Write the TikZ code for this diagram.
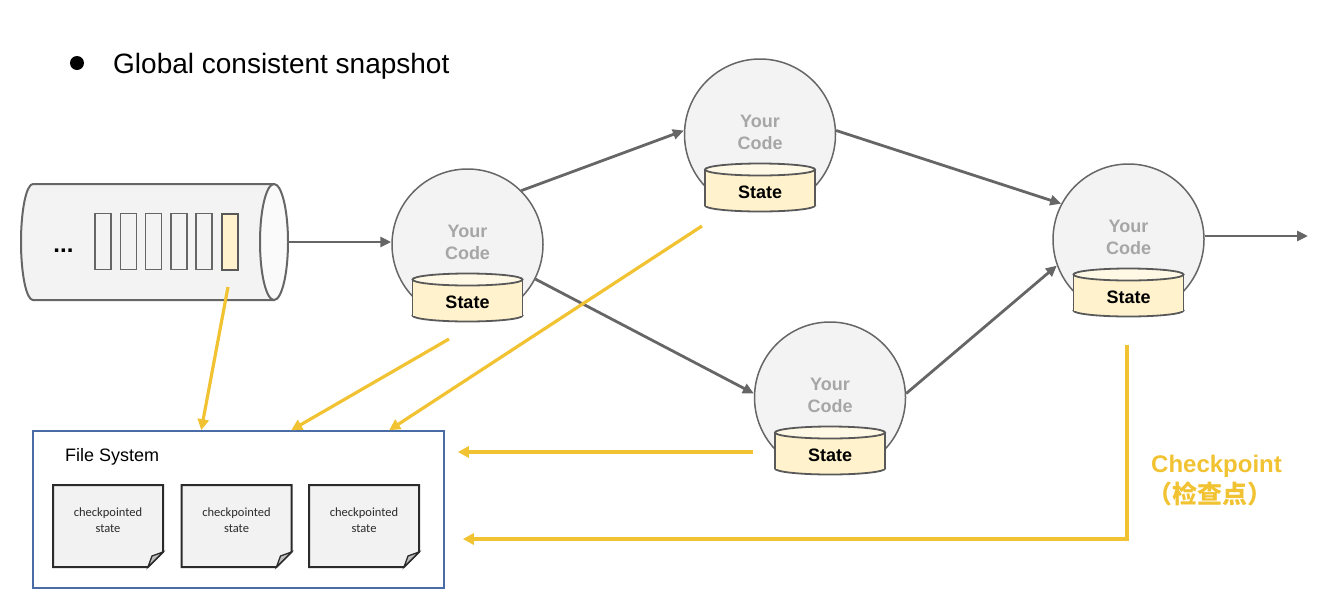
\documentclass[tikz,border=0pt]{standalone}
\usepackage{fontspec}
\setmainfont{Liberation Sans}
\newfontfamily\cjk{Noto Sans CJK SC}
\newfontfamily\carlito{Carlito}
\usetikzlibrary{arrows.meta,shapes.geometric,calc}
\definecolor{edgegray}{HTML}{666666}
\definecolor{circfill}{HTML}{F3F3F3}
\definecolor{circline}{HTML}{666666}
\definecolor{statefill}{HTML}{FFF2CC}
\definecolor{statetop}{HTML}{FFF8E4}
\definecolor{stateline}{HTML}{595959}
\definecolor{ylw}{HTML}{F1C232}
\definecolor{fsblue}{HTML}{4A6CA6}
\definecolor{codegray}{HTML}{A6A6A6}
\definecolor{docfill}{HTML}{F2F2F2}
\definecolor{docline}{HTML}{2B2B2B}
\definecolor{flapfill}{HTML}{BFBFBF}
\newcommand\statedb[3]{%
  \filldraw[draw=stateline,fill=statefill,line width=1.8pt] (#1,#2+71) ellipse [x radius=55,y radius=6];
  \fill[statefill] (#1-55,#2+35) rectangle (#1+55,#2+71);
  \draw[stateline,line width=1.8pt] (#1-55,#2+35) -- (#1-55,#2+71) (#1+55,#2+35) -- (#1+55,#2+71);
  \filldraw[draw=stateline,fill=statetop,line width=1.8pt] (#1,#2+35) ellipse [x radius=55,y radius=6];
  \node[statetext] (#3) at (#1,#2+58) {State};
}
\newcommand\docpage[2]{%
  \filldraw[draw=docline,fill=docfill,line width=2pt] (#1-55,485) -- (#1+55,485) -- (#1+55,552) -- (#1+40,567) -- (#1-55,567) -- cycle;
  \filldraw[draw=docline,fill=flapfill,line width=1.3pt] (#1+55,552) -- (#1+44,556) -- (#1+40,567) -- cycle;
  \node[doctext] (#2) at (#1,520) {checkpointed\\state};
}
\begin{document}
\begin{tikzpicture}[x=1pt,y=-1pt,
  proc/.style={circle,draw=circline,fill=circfill,line width=1.5pt,minimum size=151pt,inner sep=0pt},
  codetext/.style={text=codegray,font=\fontsize{18}{22}\selectfont\bfseries,align=center,inner sep=0pt},
  statetext/.style={font=\fontsize{18}{22}\selectfont\bfseries,inner sep=0pt},
  doctext/.style={font=\carlito\fontsize{12.5}{16}\selectfont,text=docline,align=center,inner sep=0pt},
  flow/.style={draw=edgegray,line width=2.8pt,-{Triangle[length=11pt,width=10pt]}},
  ckpt/.style={draw=ylw,line width=3.2pt,-{Triangle[length=11pt,width=11pt]}},
  slot/.style={draw=edgegray,line width=1.5pt,fill=circfill,minimum width=16pt,minimum height=56pt,inner sep=0pt},
]
\useasboundingbox (0,0) rectangle (1327,611);
% title
\fill (77,63) circle (7pt);
\node[anchor=base west,inner sep=0pt,font=\fontsize{28}{32}\selectfont] (title) at (113,73) {Global consistent snapshot};
% queue
\filldraw[draw=edgegray,fill=circfill,line width=2pt] (33,184) -- (274,184) -- (274,300) -- (33,300) arc[start angle=90,end angle=270,x radius=12,y radius=58] -- cycle;
\node[ellipse,draw=edgegray,fill=white!60!circfill,line width=2pt,minimum width=28pt,minimum height=116pt,inner sep=0pt] (qend) at (274,242) {};
\node[anchor=base,inner sep=0pt,font=\fontsize{24}{26}\selectfont\bfseries] (dots) at (63.5,252) {...};
\node[slot] (r1) at (103,241.5) {};
\node[slot] (r2) at (128.3,241.5) {};
\node[slot] (r3) at (153.6,241.5) {};
\node[slot] (r4) at (178.9,241.5) {};
\node[slot] (r5) at (204.2,241.5) {};
\node[slot,fill=statefill,draw=stateline,line width=2pt] (r6) at (229.5,241.5) {};
% operators
\node[proc] (n1) at (467.5,244.5) {};
\node[proc] (n2) at (760,134.5) {};
\node[proc] (n3) at (830,397.5) {};
\node[proc] (n4) at (1128.5,239.5) {};
\node[codetext] (t1) at (467.5,242.5) {Your\\Code};
\node[codetext] (t2) at (760,132.5) {Your\\Code};
\node[codetext] (t3) at (830,395.5) {Your\\Code};
\node[codetext] (t4) at (1128.5,237.5) {Your\\Code};
\statedb{467.5}{244.5}{s1}
\statedb{760}{134.5}{s2}
\statedb{830}{397.5}{s3}
\statedb{1128.5}{239.5}{s4}
% data flow
\coordinate (out) at (1308,236);
\draw[flow] (qend.east) -- (qend.east -| n1.west);
\draw[flow] (n1.45) -- (n2.177);
\draw[flow] (n1.-27.5) -- (n3.177);
\draw[flow] (n2.3) -- (n4.152);
\draw[flow] (n3.3.5) -- (n4.200);
\draw[flow] (n4.east |- out) -- (out);
% file system
\node[draw=fsblue,line width=1.6pt,minimum width=411pt,minimum height=157pt,inner sep=0pt] (fs) at (238.5,509.5) {};
\node[anchor=base west,inner sep=0pt,font=\fontsize{18}{20}\selectfont] (fslabel) at (65,461) {File System};
\docpage{108}{d1}
\docpage{236.5}{d2}
\docpage{364}{d3}
% checkpoint arrows
\coordinate (y1s) at (228,287);
\coordinate (y2s) at (449,339);
\coordinate (y3s) at (702,226);
\coordinate (y4s) at (753,452);
\coordinate (y5s) at (1127,345);
\coordinate (y5c) at (1127,539);
\coordinate (f1) at ($(fs.north west)+(169,0)$);
\coordinate (f2) at ($(fs.north west)+(259,0)$);
\coordinate (f3) at ($(fs.north west)+(357,0)$);
\draw[ckpt] (y1s) -- (f1);
\draw[ckpt] (y2s) -- (f2);
\draw[ckpt] (y3s) -- (f3);
\draw[ckpt,shorten >=13pt] (y4s) -- (y4s -| fs.east);
\draw[ckpt,shorten >=18pt] (y5s) -- (y5c) -- (y5c -| fs.east);
\node[anchor=base west,inner sep=0pt,text=ylw,font=\fontsize{24}{28}\selectfont\bfseries] (ck) at (1151,472) {Checkpoint};
\node[inner sep=0pt,text=ylw,font=\cjk\fontsize{25}{28}\selectfont\bfseries] (ckcn) at (1210,494) {（检查点）};
\end{tikzpicture}
\end{document}
